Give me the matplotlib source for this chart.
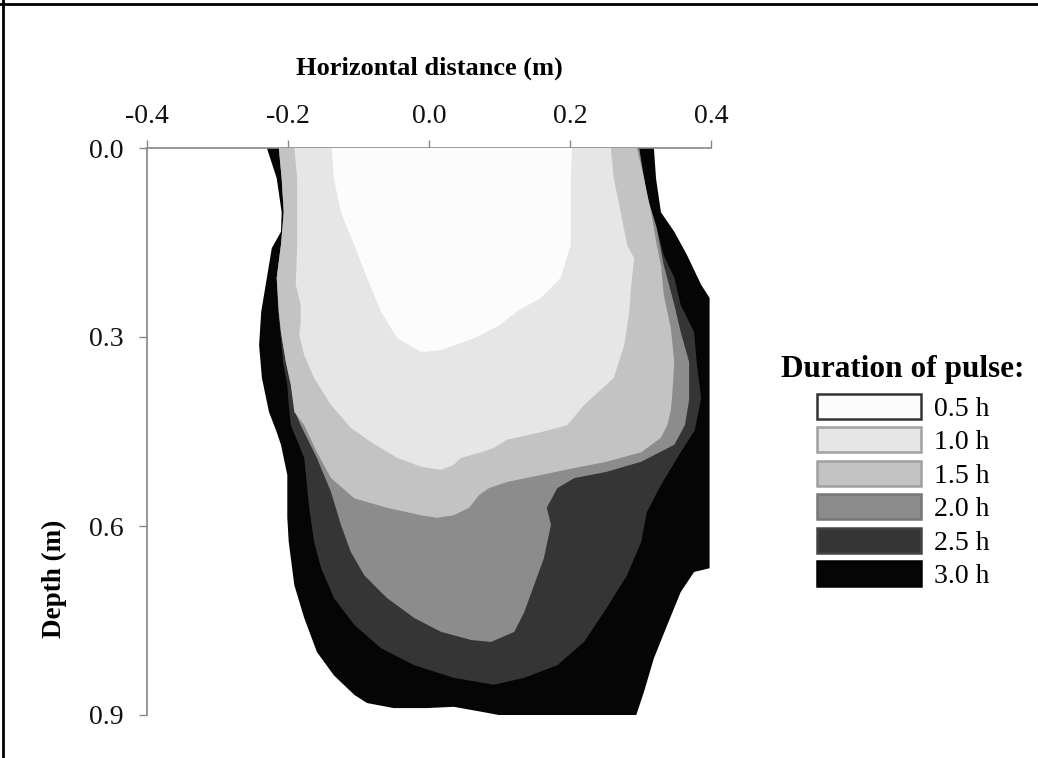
import matplotlib
matplotlib.use("Agg")
import matplotlib.pyplot as plt
from matplotlib.patches import Patch
from matplotlib.lines import Line2D

plt.rcParams['font.family'] = ['Liberation Serif', 'DejaVu Serif']

# ---- data: wetting-front outlines (x in m, depth in m) for each pulse duration ----
durations = ["0.5 h", "1.0 h", "1.5 h", "2.0 h", "2.5 h", "3.0 h"]

x_30 = [-0.230, -0.216, -0.209, -0.210, -0.223, -0.230, -0.238, -0.241, -0.237, -0.227,
        -0.217, -0.210, -0.201, -0.201, -0.199, -0.191, -0.177, -0.159, -0.135, -0.106,
        -0.088, -0.050, -0.003, 0.035, 0.075, 0.099, 0.294, 0.305, 0.319, 0.338,
        0.357, 0.376, 0.398, 0.398, 0.386, 0.366, 0.348, 0.329, 0.322, 0.319]
d_30 = [0.000, 0.048, 0.102, 0.133, 0.159, 0.206, 0.260, 0.313, 0.365, 0.419,
        0.448, 0.471, 0.519, 0.587, 0.625, 0.694, 0.746, 0.800, 0.837, 0.868,
        0.881, 0.889, 0.889, 0.887, 0.895, 0.900, 0.900, 0.863, 0.810, 0.757,
        0.705, 0.673, 0.667, 0.238, 0.217, 0.170, 0.133, 0.102, 0.048, 0.000]

x_25 = [-0.213, -0.209, -0.206, -0.210, -0.216, -0.214, -0.211, -0.207, -0.201, -0.199,
        -0.196, -0.177, -0.170, -0.163, -0.153, -0.135, -0.106, -0.068, -0.021, 0.035,
        0.092, 0.135, 0.182, 0.220, 0.252, 0.281, 0.301, 0.309, 0.329, 0.357,
        0.377, 0.386, 0.380, 0.376, 0.357, 0.348, 0.333, 0.323, 0.309, 0.298]
d_25 = [0.000, 0.048, 0.102, 0.154, 0.206, 0.260, 0.292, 0.340, 0.376, 0.408,
        0.440, 0.492, 0.571, 0.625, 0.667, 0.714, 0.757, 0.794, 0.821, 0.841,
        0.852, 0.841, 0.821, 0.784, 0.730, 0.678, 0.625, 0.578, 0.535, 0.483,
        0.448, 0.397, 0.344, 0.292, 0.249, 0.206, 0.170, 0.127, 0.075, 0.000]

x_20 = [-0.213, -0.209, -0.206, -0.210, -0.216, -0.213, -0.210, -0.203, -0.196, -0.190,
        -0.182, -0.159, -0.139, -0.125, -0.111, -0.092, -0.060, -0.021, 0.017, 0.060,
        0.088, 0.121, 0.135, 0.149, 0.163, 0.173, 0.167, 0.182, 0.206, 0.252,
        0.301, 0.348, 0.363, 0.369, 0.369, 0.357, 0.348, 0.333, 0.323, 0.309, 0.298]
d_20 = [0.000, 0.048, 0.102, 0.154, 0.206, 0.260, 0.292, 0.340, 0.376, 0.419,
        0.440, 0.492, 0.546, 0.598, 0.641, 0.678, 0.714, 0.746, 0.768, 0.781,
        0.784, 0.768, 0.737, 0.694, 0.651, 0.598, 0.571, 0.540, 0.524, 0.514,
        0.498, 0.471, 0.440, 0.400, 0.340, 0.292, 0.249, 0.186, 0.127, 0.075, 0.000]

x_15 = [-0.213, -0.209, -0.206, -0.210, -0.216, -0.213, -0.210, -0.203, -0.196, -0.191,
        -0.177, -0.159, -0.139, -0.106, -0.060, -0.011, 0.011, 0.035, 0.057, 0.071,
        0.085, 0.111, 0.159, 0.206, 0.252, 0.301, 0.329, 0.338, 0.343, 0.345,
        0.348, 0.343, 0.333, 0.329, 0.323, 0.315, 0.305, 0.295]
d_15 = [0.000, 0.048, 0.102, 0.154, 0.206, 0.260, 0.292, 0.340, 0.376, 0.419,
        0.440, 0.483, 0.524, 0.556, 0.571, 0.583, 0.587, 0.583, 0.571, 0.551,
        0.540, 0.530, 0.519, 0.508, 0.498, 0.483, 0.460, 0.440, 0.416, 0.392,
        0.340, 0.286, 0.233, 0.186, 0.154, 0.102, 0.048, 0.000]

x_10 = [-0.191, -0.187, -0.187, -0.189, -0.182, -0.182, -0.184, -0.177, -0.163, -0.139,
        -0.111, -0.082, -0.045, -0.011, 0.017, 0.035, 0.045, 0.074, 0.092, 0.111,
        0.159, 0.196, 0.220, 0.262, 0.277, 0.284, 0.287, 0.291, 0.281, 0.272,
        0.262, 0.258]
d_10 = [0.000, 0.048, 0.154, 0.217, 0.249, 0.276, 0.297, 0.329, 0.365, 0.408,
        0.444, 0.467, 0.492, 0.506, 0.511, 0.503, 0.492, 0.483, 0.476, 0.463,
        0.451, 0.440, 0.408, 0.365, 0.313, 0.260, 0.217, 0.175, 0.154, 0.102,
        0.048, 0.000]

x_05 = [-0.138, -0.135, -0.125, -0.106, -0.088, -0.068, -0.045, -0.011, 0.017, 0.064,
        0.099, 0.128, 0.159, 0.187, 0.201, 0.201, 0.203]
d_05 = [0.000, 0.048, 0.102, 0.154, 0.206, 0.260, 0.302, 0.324, 0.321, 0.302,
        0.282, 0.257, 0.238, 0.206, 0.154, 0.048, 0.000]

xs = [x_05, x_10, x_15, x_20, x_25, x_30]
ds = [d_05, d_10, d_15, d_20, d_25, d_30]

x_ticks = [-0.4, -0.2, 0.0, 0.2, 0.4]
y_ticks = [0.0, 0.3, 0.6, 0.9]

fills = ['#fcfcfc', '#e6e6e6', '#c3c3c3', '#8c8c8c', '#353535', '#050505']
edges = ['#333333', '#a0a0a0', '#a0a0a0', '#777777', '#444444', '#000000']

# ---- figure ----
W, H = 1038, 758
fig = plt.figure(figsize=(W / 100, H / 100), dpi=100)
ax = fig.add_axes([147 / W, 43 / H, 564 / W, 567 / H])

for i in range(len(durations) - 1, -1, -1):
    ax.fill(xs[i], ds[i], facecolor=fills[i], edgecolor='none', lw=0, zorder=2 + (5 - i))

ax.set_xlim(-0.4, 0.4)
ax.set_ylim(0.9, 0.0)
ax.set_xticks(x_ticks)
ax.set_yticks(y_ticks)
ax.set_xticklabels([f"{v:.1f}" for v in x_ticks])
ax.set_yticklabels([f"{v:.1f}" for v in y_ticks])

ax.xaxis.tick_top()
ax.xaxis.set_label_position('top')
for s in ['right', 'bottom']:
    ax.spines[s].set_visible(False)
for s in ['top', 'left']:
    ax.spines[s].set_color('#888888')
    ax.spines[s].set_linewidth(1.2)
ax.tick_params(axis='both', direction='out', length=6, width=1.0, color='#888888',
               labelsize=20, labelcolor='#111111')
ax.tick_params(axis='x', pad=8)
ax.tick_params(axis='y', pad=11)
ax.set_facecolor('none')

ax.set_xlabel("Horizontal distance (m)", fontsize=19, fontweight='bold')
ax.xaxis.set_label_coords(0.5, 1.13)
ax.set_ylabel("Depth (m)", fontsize=19.5, fontweight='bold')
ax.yaxis.set_label_coords(-0.142, 0.24)

handles = [Patch(facecolor=fills[i], edgecolor=edges[i], linewidth=1.8) for i in range(len(durations))]
leg = ax.legend(handles, durations, loc='upper center', bbox_to_anchor=(903 / W, (H - 355) / H),
                bbox_transform=fig.transFigure, frameon=False, fontsize=20,
                title="Duration of pulse:", title_fontproperties={'size': 22.5, 'weight': 'bold'},
                handlelength=3.75, handleheight=1.0, handletextpad=0.45, labelspacing=0.2,
                borderpad=0, borderaxespad=0)
leg._legend_box.sep = 7

# figure border (top and left edges)
fig.add_artist(Line2D([0, 1], [1 - 4 / H, 1 - 4 / H], transform=fig.transFigure, color='black', lw=2))
fig.add_artist(Line2D([3 / W, 3 / W], [0, 1], transform=fig.transFigure, color='black', lw=2))

fig.savefig("out.png", dpi=100)
